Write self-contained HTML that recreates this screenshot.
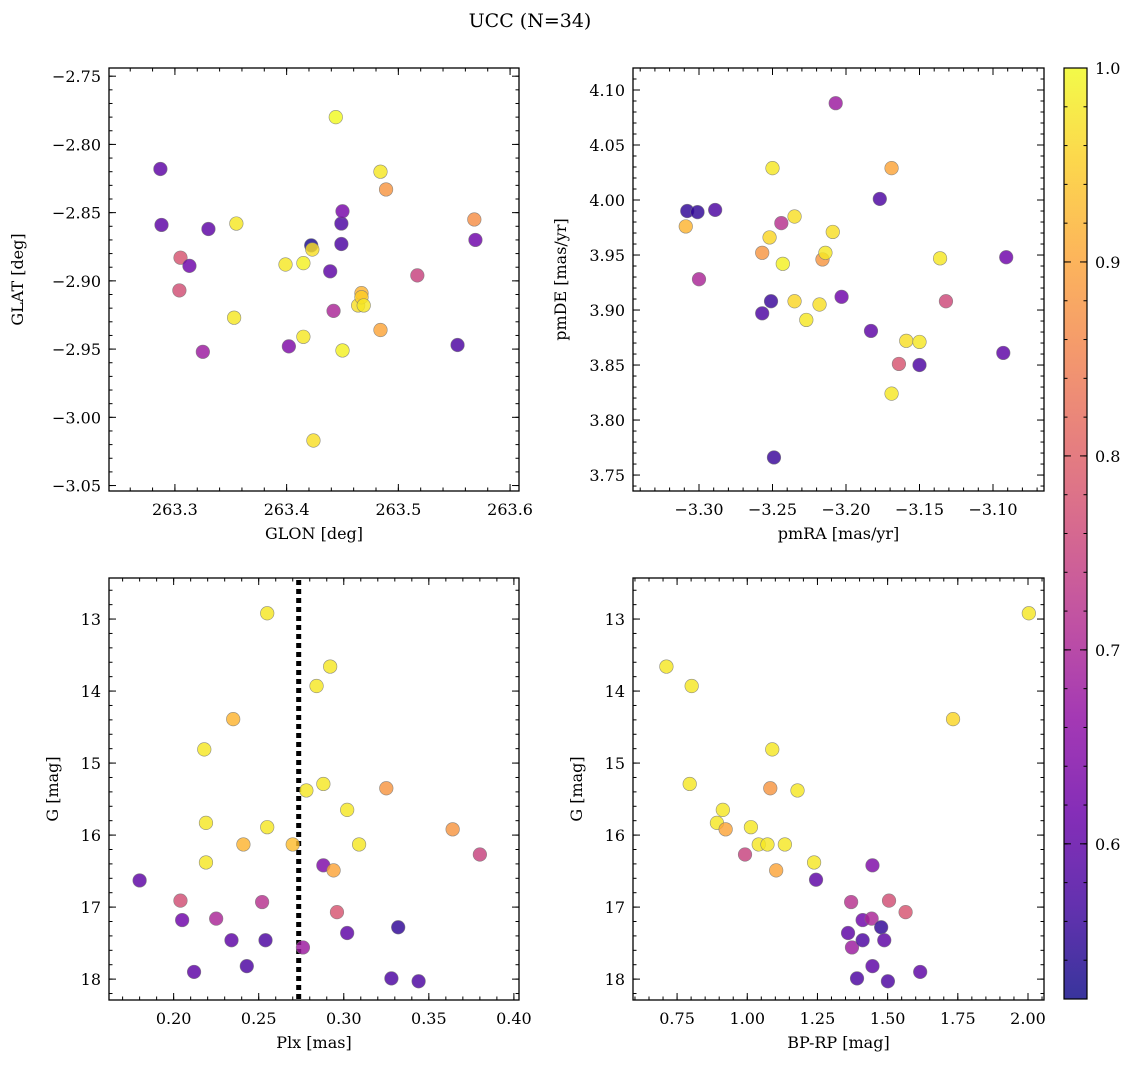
<!DOCTYPE html>
<html><head><meta charset="utf-8"><style>
html,body{margin:0;padding:0;background:#fff;}
svg{display:block;font-family:"DejaVu Serif","Liberation Serif",serif;}
</style></head><body>
<svg id="fig" width="1136" height="1067" viewBox="0 0 1136 1067" xmlns="http://www.w3.org/2000/svg">
<text x="530" y="27" font-size="19" text-anchor="middle">UCC (N=34)</text>
</svg>
<script>
// Panel 1: GLON vs GLAT
const p1Glon=[263.287,263.288,263.305,263.313,263.304,263.330,263.325,263.355,263.353,263.399,263.402,263.415,263.415,263.422,263.423,263.424,263.439,263.442,263.444,263.449,263.449,263.450,263.450,263.464,263.467,263.467,263.469,263.484,263.484,263.489,263.517,263.553,263.568,263.569];
const p1Glat=[-2.818,-2.859,-2.883,-2.889,-2.907,-2.862,-2.952,-2.858,-2.927,-2.888,-2.948,-2.887,-2.941,-2.874,-2.877,-3.017,-2.893,-2.922,-2.780,-2.858,-2.873,-2.849,-2.951,-2.918,-2.909,-2.912,-2.918,-2.820,-2.936,-2.833,-2.896,-2.947,-2.855,-2.870];
const p1Prob=[0.6,0.6,0.78,0.62,0.77,0.6,0.68,0.98,0.98,0.98,0.64,0.99,0.98,0.53,0.97,0.97,0.6,0.7,1.0,0.58,0.58,0.63,0.99,0.97,0.92,0.95,0.98,0.98,0.9,0.88,0.75,0.58,0.87,0.62];
// Panel 2: pmRA vs pmDE
const p2Pmra=[-3.308,-3.301,-3.289,-3.309,-3.300,-3.257,-3.257,-3.250,-3.252,-3.251,-3.249,-3.243,-3.235,-3.235,-3.244,-3.227,-3.218,-3.216,-3.214,-3.209,-3.207,-3.203,-3.183,-3.177,-3.169,-3.169,-3.164,-3.159,-3.150,-3.150,-3.136,-3.132,-3.093,-3.091];
const p2Pmde=[3.990,3.989,3.991,3.976,3.928,3.952,3.897,4.029,3.966,3.908,3.766,3.942,3.908,3.985,3.979,3.891,3.905,3.946,3.952,3.971,4.088,3.912,3.881,4.001,4.029,3.824,3.851,3.872,3.871,3.850,3.947,3.908,3.861,3.948];
const p2Prob=[0.55,0.55,0.58,0.92,0.7,0.88,0.58,0.98,0.96,0.56,0.56,0.99,0.96,0.97,0.72,0.98,0.97,0.88,0.98,0.97,0.68,0.62,0.6,0.58,0.9,0.98,0.78,0.97,0.98,0.58,0.98,0.76,0.6,0.62];
// Panel 3: Plx vs G
const p3Plx=[0.180,0.204,0.205,0.212,0.218,0.219,0.219,0.225,0.235,0.234,0.241,0.243,0.252,0.254,0.255,0.255,0.270,0.276,0.278,0.284,0.288,0.288,0.292,0.294,0.296,0.302,0.302,0.309,0.325,0.332,0.328,0.344,0.364,0.380];
const p3G=[16.63,16.91,17.18,17.90,14.81,15.83,16.38,17.16,14.39,17.46,16.13,17.82,16.93,17.46,15.89,12.92,16.13,17.56,15.38,13.93,15.29,16.42,13.66,16.49,17.07,15.65,17.36,16.13,15.35,17.28,17.99,18.03,15.92,16.27];
const p3Prob=[0.6,0.77,0.62,0.6,0.98,0.98,0.98,0.7,0.92,0.6,0.92,0.58,0.72,0.58,0.98,0.98,0.93,0.68,0.98,0.98,0.98,0.64,0.98,0.9,0.78,0.98,0.6,0.98,0.88,0.55,0.58,0.58,0.88,0.75];
const plxLine=0.2735;
// Panel 4: BP-RP vs G
const p4Bprp=[0.712,0.802,0.795,2.003,1.733,0.892,0.913,0.923,1.013,1.041,1.072,1.089,1.082,1.103,1.134,0.992,1.179,1.238,1.245,1.359,1.370,1.373,1.391,1.411,1.411,1.443,1.446,1.446,1.477,1.488,1.501,1.505,1.564,1.616];
const p4G=[13.66,13.93,15.29,12.92,14.39,15.83,15.65,15.92,15.89,16.13,16.13,14.81,15.35,16.49,16.13,16.27,15.38,16.38,16.62,17.36,16.93,17.56,17.99,17.18,17.46,17.16,16.42,17.82,17.28,17.46,18.03,16.91,17.07,17.90];
const p4Prob=[0.98,0.98,0.98,0.98,0.96,0.98,0.98,0.9,0.98,0.98,0.98,0.98,0.88,0.9,0.98,0.75,0.98,0.98,0.6,0.6,0.72,0.68,0.58,0.62,0.58,0.7,0.64,0.6,0.55,0.6,0.58,0.77,0.78,0.6];
// tick labels
const t1x=[263.3,263.4,263.5,263.6], t1xL=["263.3","263.4","263.5","263.6"];
const t1y=[-2.75,-2.80,-2.85,-2.90,-2.95,-3.00,-3.05];
const t2x=[-3.30,-3.25,-3.20,-3.15,-3.10];
const t2y=[3.75,3.80,3.85,3.90,3.95,4.00,4.05,4.10];
const t3x=[0.20,0.25,0.30,0.35,0.40];
const tGy=[13,14,15,16,17,18];
const t4x=[0.75,1.00,1.25,1.50,1.75,2.00];
const tC=[0.6,0.7,0.8,0.9,1.0];
const cMin=0.52,cMax=1.0;

const NS="http://www.w3.org/2000/svg";
const svg=document.getElementById('fig');
function mk(tag,attrs,parent){const e=document.createElementNS(NS,tag);for(const k in attrs)e.setAttribute(k,attrs[k]);(parent||svg).appendChild(e);return e;}
const stops=["#0d0887","#41049d","#6a00a8","#8f0da4","#b12a90","#cc4778","#e16462","#f2844b","#fca636","#fcce25","#f0f921"];
function hex(h){return [parseInt(h.substr(1,2),16),parseInt(h.substr(3,2),16),parseInt(h.substr(5,2),16)];}
function plasma(t){t=Math.max(0,Math.min(1,t));const f=t*10,i=Math.min(9,Math.floor(f)),u=f-i;const a=hex(stops[i]),b=hex(stops[i+1]);return `rgb(${a.map((v,k)=>Math.round(v+(b[k]-v)*u)).join(',')})`;}
function cmap(p){return plasma((p-cMin)/(cMax-cMin));}
function fmtMinus(s){return s.replace('-','\u2212');}

function panel(o){
  const g=mk('g',{});
  
  
  const sx=v=>o.L+(v-o.x0)/(o.x1-o.x0)*(o.R-o.L);
  const sy=v=>o.flip? o.T+(v-o.y0)/(o.y1-o.y0)*(o.B-o.T) : o.B-(v-o.y0)/(o.y1-o.y0)*(o.B-o.T);
  const tg=mk('g',{stroke:'#000','stroke-width':1},g);
  
  
  const eps=1e-9;
  for(let v=Math.ceil(o.x0/o.xm-eps)*o.xm; v<=o.x1+eps; v+=o.xm){const x=sx(v);mk('line',{x1:x,x2:x,y1:o.B,y2:o.B-3.5},tg);mk('line',{x1:x,x2:x,y1:o.T,y2:o.T+3.5},tg);}
  const ylo=Math.min(o.y0,o.y1),yhi=Math.max(o.y0,o.y1);
  for(let v=Math.ceil(ylo/o.ym-eps)*o.ym; v<=yhi+eps; v+=o.ym){const y=sy(v);mk('line',{x1:o.L,x2:o.L+3.5,y1:y,y2:y},tg);mk('line',{x1:o.R,x2:o.R-3.5,y1:y,y2:y},tg);}
  o.xt.forEach((v,i)=>{const x=sx(v);mk('line',{x1:x,x2:x,y1:o.B,y2:o.B-7},tg);mk('line',{x1:x,x2:x,y1:o.T,y2:o.T+7},tg);
    const t=mk('text',{x:x,y:o.B+24,'font-size':16,'text-anchor':'middle'},g);t.textContent=fmtMinus(o.xl[i]);
    });
  o.yt.forEach((v,i)=>{const y=sy(v);mk('line',{x1:o.L,x2:o.L+7,y1:y,y2:y},tg);mk('line',{x1:o.R,x2:o.R-7,y1:y,y2:y},tg);
    const t=mk('text',{x:o.L-8,y:y+6,'font-size':16,'text-anchor':'end'},g);t.textContent=fmtMinus(o.yl[i]);
    });
  if(o.vline!==undefined){const x=sx(o.vline);const l=mk('line',{x1:x,x2:x,y1:o.T+2,y2:o.B,stroke:'#000','stroke-width':5,'stroke-dasharray':'5 4'},g);
    }
  const pg=mk('g',{},g);
  
  
  o.xs.forEach((v,i)=>{const c=mk('circle',{cx:sx(v),cy:sy(o.ys[i]),r:6.8,fill:cmap(o.cs[i]),'fill-opacity':0.82,stroke:'#777','stroke-width':0.6,'stroke-opacity':0.8},pg);
    });
  const fr=mk('rect',{x:o.L,y:o.T,width:o.R-o.L,height:o.B-o.T,fill:'none',stroke:'#000','stroke-width':1.3},g);
  
  const xt=mk('text',{x:(o.L+o.R)/2,y:o.B+48,'font-size':16,'text-anchor':'middle'},g);xt.textContent=o.xlabel;
  
  const yt=mk('text',{x:0,y:0,'font-size':16,'text-anchor':'middle',transform:`translate(${o.ylx},${(o.T+o.B)/2}) rotate(-90)`},g);yt.textContent=o.ylabel;
  
}
const f2=v=>v.toFixed(2);
panel({name:'glon-glat-panel',L:109,R:519,T:68,B:491,x0:263.241,x1:263.608,y0:-3.054,y1:-2.744,xm:0.02,ym:0.01,
  xt:t1x,xl:t1xL,yt:t1y,yl:t1y.map(f2),xs:p1Glon,ys:p1Glat,cs:p1Prob,xlabel:'GLON [deg]',ylabel:'GLAT [deg]',ylx:23});
panel({name:'pm-panel',L:633,R:1044,T:68,B:491,x0:-3.3449,x1:-3.0653,y0:3.7355,y1:4.120,xm:0.01,ym:0.01,
  xt:t2x,xl:t2x.map(f2),yt:t2y,yl:t2y.map(f2),xs:p2Pmra,ys:p2Pmde,cs:p2Prob,xlabel:'pmRA [mas/yr]',ylabel:'pmDE [mas/yr]',ylx:566});
panel({name:'plx-g-panel',L:109,R:519,T:578,B:1000,x0:0.162,x1:0.403,y0:12.43,y1:18.29,flip:true,xm:0.01,ym:0.2,
  xt:t3x,xl:t3x.map(f2),yt:tGy,yl:tGy.map(String),xs:p3Plx,ys:p3G,cs:p3Prob,vline:plxLine,xlabel:'Plx [mas]',ylabel:'G [mag]',ylx:58});
panel({name:'cmd-panel',L:633,R:1044,T:578,B:1000,x0:0.593,x1:2.057,y0:12.43,y1:18.29,flip:true,xm:0.05,ym:0.2,
  xt:t4x,xl:t4x.map(f2),yt:tGy,yl:tGy.map(String),xs:p4Bprp,ys:p4G,cs:p4Prob,xlabel:'BP-RP [mag]',ylabel:'G [mag]',ylx:582});

// colorbar
const cb=mk('g',{});


const defs=mk('defs',{},cb);
const lg=mk('linearGradient',{id:'cg',x1:0,y1:1,x2:0,y2:0},defs);
for(let i=0;i<=20;i++){mk('stop',{offset:i/20,'stop-color':plasma(i/20),'stop-opacity':0.82},lg);}
const CL=1064,CR=1087,CT=68,CB=999;
const cy=v=>CB-(v-cMin)/(cMax-cMin)*(CB-CT);
mk('rect',{x:CL,y:CT,width:CR-CL,height:CB-CT,fill:'url(#cg)',stroke:'#000','stroke-width':1.2},cb);
for(let v=0.54;v<=1.0001;v+=0.02){const y=cy(v);mk('line',{x1:CR,x2:CR-3.5,y1:y,y2:y,stroke:'#000'},cb);mk('line',{x1:CL,x2:CL+3.5,y1:y,y2:y,stroke:'#000'},cb);}
tC.forEach(v=>{const y=cy(v);mk('line',{x1:CR,x2:CR-7,y1:y,y2:y,stroke:'#000'},cb);mk('line',{x1:CL,x2:CL+7,y1:y,y2:y,stroke:'#000'},cb);
  const t=mk('text',{x:CR+8,y:y+6,'font-size':16},cb);t.textContent=v.toFixed(1);
  });
</script>
</body></html>
